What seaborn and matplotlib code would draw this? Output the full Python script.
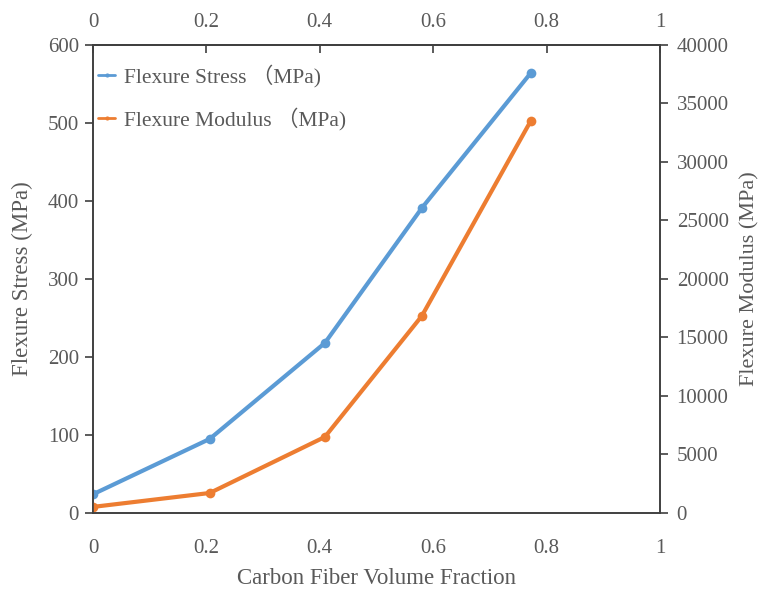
import matplotlib
matplotlib.use("Agg")
import matplotlib.pyplot as plt
import seaborn as sns
import pandas as pd

# Carbon fiber volume fraction vs. flexural properties
volume_fraction = [0.0, 0.206, 0.409, 0.58, 0.772]
flexure_stress = [24, 95, 218, 391, 564]          # MPa
flexure_modulus = [520, 1710, 6500, 16840, 33500]  # MPa

x_ticks = [0, 0.2, 0.4, 0.6, 0.8, 1]
x_tick_labels = ["0", "0.2", "0.4", "0.6", "0.8", "1"]
stress_ticks = [0, 100, 200, 300, 400, 500, 600]
modulus_ticks = [0, 5000, 10000, 15000, 20000, 25000, 30000, 35000, 40000]

BLUE = "#5B9BD5"
ORANGE = "#ED7D31"
TEXT = "#595959"
SPINE = "#404040"

sns.set_style("white")
plt.rcParams["font.family"] = ["Liberation Serif", "DejaVu Serif"]
plt.rcParams["font.size"] = 15

df = pd.DataFrame({"fraction": volume_fraction,
                   "stress": flexure_stress,
                   "modulus": flexure_modulus})

fig = plt.figure(figsize=(7.66, 5.91), dpi=100)
ax = fig.add_axes([0.1214, 0.132, 0.7402, 0.7919])
ax2 = ax.twinx()

sns.lineplot(data=df, x="fraction", y="stress", ax=ax, color=BLUE,
             linewidth=3, marker="o", markersize=7, markeredgewidth=0,
             legend=False)
sns.lineplot(data=df, x="fraction", y="modulus", ax=ax2, color=ORANGE,
             linewidth=3, marker="o", markersize=7, markeredgewidth=0,
             legend=False)

ax.set_xlim(0, 1)
ax.set_ylim(0, 600)
ax2.set_ylim(0, 40000)
ax.set_xticks(x_ticks)
ax.set_xticklabels(x_tick_labels)
ax.set_yticks(stress_ticks)
ax2.set_yticks(modulus_ticks)

top = ax.secondary_xaxis("top")
top.set_xticks(x_ticks)
top.set_xticklabels(x_tick_labels)

ax.set_xlabel("Carbon Fiber Volume Fraction", color=TEXT, fontsize=16.5, labelpad=7)
ax.set_ylabel("Flexure Stress (MPa)", color=TEXT, fontsize=16.5, labelpad=11)
ax2.set_ylabel("Flexure Modulus (MPa)", color=TEXT, fontsize=16, labelpad=8)

for a in (ax, ax2):
    for s in a.spines.values():
        s.set_color(SPINE)
        s.set_linewidth(1.2)
for s in top.spines.values():
    s.set_color(SPINE)
    s.set_linewidth(1.2)

ax.tick_params(axis="x", direction="in", length=6, width=1.2, color=SPINE,
               labelcolor=TEXT, labelsize=15, pad=19)
ax.tick_params(axis="y", direction="out", length=6, width=1.2, color=SPINE,
               labelcolor=TEXT, labelsize=15, pad=4)
ax2.tick_params(axis="y", direction="out", length=6, width=1.2, color=SPINE,
                labelcolor=TEXT, labelsize=15, pad=6)
top.tick_params(axis="x", direction="in", length=6, width=1.2, color=SPINE,
                labelcolor=TEXT, labelsize=15, pad=9)

handles = ax.get_lines()[:1] + ax2.get_lines()[:1]
labels = ["Flexure Stress （MPa)", "Flexure Modulus （MPa)"]
leg = ax.legend(handles, labels, loc="upper left", bbox_to_anchor=(-0.025, 1.0),
                frameon=False, handlelength=0.8, handletextpad=0.4,
                labelspacing=0.95,
                prop={"family": ["Liberation Serif", "Noto Sans CJK SC"], "size": 15.5})
for t in leg.get_texts():
    t.set_color(TEXT)
for h in leg.legend_handles:
    h.set_linewidth(2)
    h.set_markersize(3)

fig.savefig("out.png", dpi=100)
